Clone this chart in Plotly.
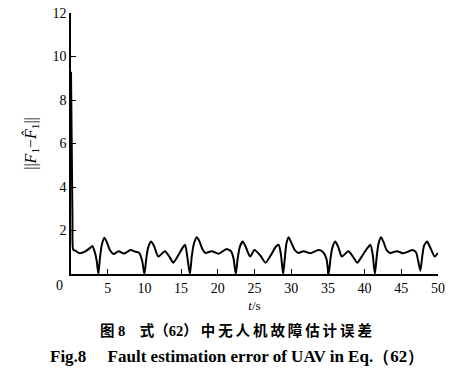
import plotly.graph_objects as go

# time (s) and error values
t = [0.0, 0.1, 0.2, 0.3, 0.6, 1.2, 2.0, 2.6, 2.9, 3.2, 3.5, 3.73, 3.95, 4.2, 4.55, 4.9, 5.3, 5.8,
     6.5, 7.2, 8.1, 8.8, 9.3, 9.7, 10.0, 10.25, 10.5, 10.9, 11.3, 11.9, 12.8, 13.4, 13.95, 14.6,
     15.2, 15.55, 15.8, 16.2, 16.45, 16.75, 17.15, 17.5, 17.9, 18.3, 19.2, 20.1, 21.2, 21.8, 22.15,
     22.45, 22.7, 23.0, 23.4, 23.8, 24.4, 25.0, 25.8, 26.5, 27.2, 27.9, 28.3, 28.6, 28.9, 29.15,
     29.35, 29.65, 30.0, 30.5, 31.0, 31.7, 32.6, 33.7, 34.3, 34.8, 35.1, 35.35, 35.6, 36.0, 36.4,
     36.9, 37.8, 38.4, 39.0, 39.7, 40.4, 40.8, 41.1, 41.4, 41.65, 41.9, 42.25, 42.6, 43.0, 43.5,
     44.4, 45.3, 46.5, 47.0, 47.3, 47.6, 47.85, 48.1, 48.5, 48.9, 49.55, 50.0]
err = [9.3, 6.0, 2.5, 1.12, 1.07, 0.95, 1.05, 1.2, 1.29, 1.05, 0.6, 0.0, 0.75, 1.35, 1.67, 1.45,
       1.1, 0.92, 1.05, 0.94, 1.1, 1.02, 0.97, 0.6, 0.0, 0.7, 1.2, 1.49, 1.3, 0.8, 1.05, 0.8, 0.52,
       0.85, 1.2, 1.34, 0.9, 0.0, 0.8, 1.4, 1.69, 1.5, 1.15, 0.97, 1.05, 0.93, 1.15, 1.05, 0.7,
       0.0, 0.7, 1.25, 1.49, 1.25, 0.8, 1.1, 0.85, 0.52, 0.85, 1.25, 1.34, 0.9, 0.0, 0.8, 1.4,
       1.69, 1.45, 1.1, 0.97, 1.05, 0.95, 1.1, 1.02, 0.7, 0.0, 0.7, 1.2, 1.49, 1.25, 0.8, 1.05,
       0.8, 0.52, 0.85, 1.2, 1.34, 0.9, 0.0, 0.8, 1.4, 1.69, 1.45, 1.1, 0.97, 1.05, 0.95, 1.1,
       1.0, 0.6, 0.15, 0.8, 1.3, 1.49, 1.25, 0.8, 0.97]

x_ticks = [0, 5, 10, 15, 20, 25, 30, 35, 40, 45, 50]
x_ticktext = ["", "5", "10", "15", "20", "25", "30", "35", "40", "45", "50"]
y_ticks = [0, 2, 4, 6, 8, 10, 12]
y_ticktext = ["", "2", "4", "6", "8", "10", "12"]

caption_cn = "图 8　" + "\u2009".join(["式（62）"] + list("中无人机故障估计误差"))
caption_en = "<b>Fig.8　 Fault estimation error of UAV in Eq.（62）</b>"

serif = "Liberation Serif"

fig = go.Figure()
fig.add_trace(go.Scatter(x=t, y=err, mode="lines", line=dict(color="black", width=2, shape="spline", smoothing=0.6),
                         showlegend=False, hoverinfo="skip"))

fig.update_layout(
    width=465, height=376,
    margin=dict(l=71, r=27, t=13, b=102),
    paper_bgcolor="white", plot_bgcolor="white",
    font=dict(family=serif, size=13, color="black"),
    xaxis=dict(range=[0, 50], tickvals=x_ticks, ticktext=x_ticktext, ticks="inside", ticklen=5,
               tickwidth=1.3, tickcolor="black", showline=True, linecolor="black", linewidth=1.5,
               showgrid=False, zeroline=False, tickfont=dict(family=serif, size=14), automargin=False,
               title=dict(text="<i>t</i>/s", font=dict(family=serif, size=13), standoff=6)),
    yaxis=dict(range=[0, 12], tickvals=y_ticks, ticktext=y_ticktext, ticks="inside", ticklen=5,
               tickwidth=1.3, tickcolor="black", showline=True, linecolor="black", linewidth=1.5,
               showgrid=False, zeroline=False, tickfont=dict(family=serif, size=14), automargin=False,
               title=dict(text="||<i>F</i><sub>1</sub>−<i>F̂</i><sub>1</sub>||", font=dict(family=serif, size=16), standoff=12)),
)

fig.add_annotation(text="0", xref="paper", yref="paper", x=-0.032, y=-0.045, showarrow=False,
                   font=dict(family=serif, size=14), xanchor="center", yanchor="middle")
fig.add_annotation(text=caption_cn, xref="paper", yref="paper", x=0.45, y=-0.215,
                   showarrow=False, xanchor="center", yanchor="middle",
                   font=dict(family="Liberation Serif, Noto Sans CJK SC", size=14.5, color="black", weight="bold"))
fig.add_annotation(text=caption_en, xref="paper", yref="paper",
                   x=0.451, y=-0.315, showarrow=False, xanchor="center", yanchor="middle",
                   font=dict(family=serif, size=17, color="black"))

fig.write_html("out.html", config={"displayModeBar": False},
               post_script="document.body.style.margin='0';document.body.style.overflow='hidden';")
